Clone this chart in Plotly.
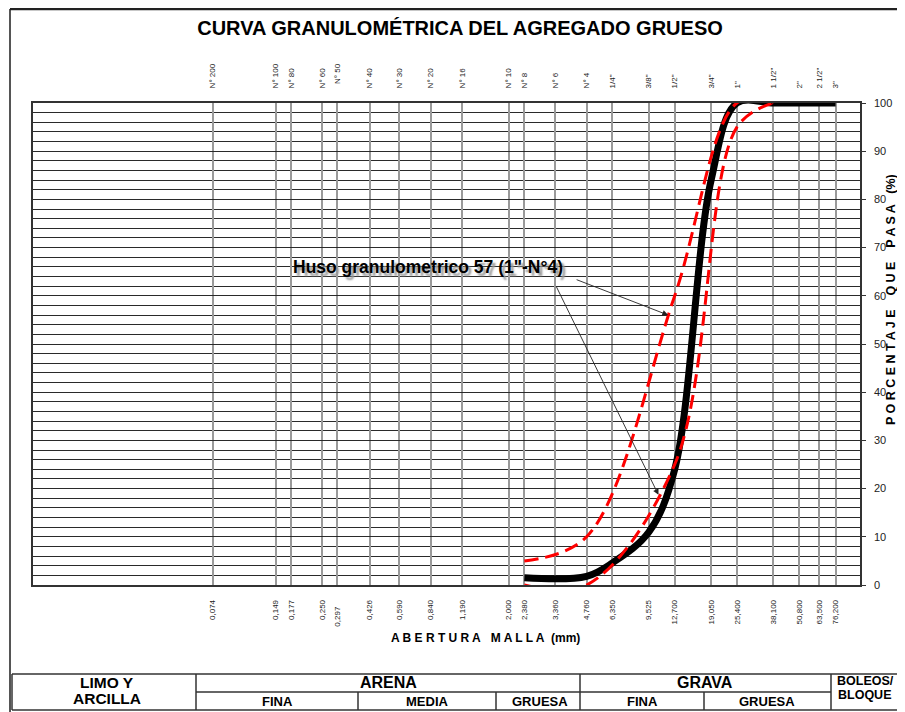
import numpy as np
import plotly.graph_objects as go

# ---------------- data ----------------
sieve_mm = [0.074, 0.149, 0.177, 0.250, 0.297, 0.426, 0.590, 0.840, 1.190, 2.000,
            2.380, 3.360, 4.760, 6.350, 9.525, 12.700, 19.050, 25.400, 38.100,
            50.800, 63.500, 76.200]
sieve_names = ["N° 200", "N° 100", "N° 80", "N° 60", "\u00a0\u00a0N° 50", "N° 40", "N° 30",
               "N° 20", "N° 16", "N° 10", "N° 8", "N° 6", "N° 4", "1/4\"", "3/8\"",
               "1/2\"", "3/4\"", "1\"", "1 1/2\"", "2\"", "2 1/2\"", "3\""]
sieve_labels = ["0,074", "0,149", "0,177", "0,250", "0,297\u00a0\u00a0\u00a0", "0,426", "0,590",
                "0,840", "1,190", "2,000", "2,380", "3,360", "4,760", "6,350", "9,525",
                "12,700", "19,050", "25,400", "38,100", "50,800", "63,500", "76,200"]

sample_mm = [2.38, 4.76, 6.35, 9.525, 12.7, 19.05, 25.4, 38.1, 50.8, 63.5, 76.2]
sample_pass = [1.5, 1.8, 4.6, 11.0, 24.0, 84.0, 100, 100, 100, 100, 100]

limit_mm = [2.38, 4.76, 12.7, 25.4, 38.1]
upper_pass = [5, 10, 60, 100, 100]
lower_pass = [0, 0, 25, 95, 100]

y_ticks = list(range(0, 101, 10))

arrow_tip_mm = [11.8, 10.6]
arrow_tip_pct = [56.0, 18.7]

# ---------------- geometry helpers (layout only) ----------------
OFF = 8                      # page body margin of the html page
L, R, T, B = 33, 860, 103, 585   # plot area in window pixels
W, H = 905, 712              # window size
FW, FH = W - OFF, H - OFF    # figure size


def px_x(px):
    return (px - L) / (R - L)


def px_y(py):
    return (B - py) / (B - T)


FONT = "Liberation Sans, Arial, sans-serif"

fig = go.Figure()

fig.add_trace(go.Scatter(
    x=sample_mm, y=sample_pass, mode="lines",
    line=dict(color="black", width=7, shape="spline", smoothing=1.0),
    hoverinfo="skip", showlegend=False))

fig.add_trace(go.Scatter(
    x=limit_mm, y=upper_pass, mode="lines",
    line=dict(color="#ff0000", width=3, dash="14px,7px", shape="spline", smoothing=1.0),
    hoverinfo="skip", showlegend=False))

fig.add_trace(go.Scatter(
    x=limit_mm, y=lower_pass, mode="lines",
    line=dict(color="#ff0000", width=3, dash="14px,7px", shape="spline", smoothing=1.0),
    hoverinfo="skip", showlegend=False))

# invisible trace to activate the top axis
fig.add_trace(go.Scatter(
    x=sample_mm, y=sample_pass, xaxis="x2", mode="lines",
    line=dict(color="rgba(0,0,0,0)", width=0),
    hoverinfo="skip", showlegend=False))

fig.update_layout(
    width=FW, height=FH,
    margin=dict(l=L - OFF, r=W - R, t=T - OFF, b=H - B, pad=0),
    paper_bgcolor="white", plot_bgcolor="white",
    font=dict(family=FONT, color="black"),
    showlegend=False,
    hovermode=False,
    title=dict(text="<b>CURVA GRANULOMÉTRICA DEL AGREGADO GRUESO</b>",
               x=(460 - OFF) / FW, xref="container", xanchor="center",
               y=1 - (28 - OFF) / FH, yref="container", yanchor="middle",
               font=dict(size=20, family=FONT, color="black")),
    xaxis=dict(
        type="log", range=[-2, 2],
        tickvals=sieve_mm, ticktext=sieve_labels, tickangle=-90,
        tickfont=dict(size=8, family=FONT, color="#222"),
        ticks="outside", ticklen=10, tickcolor="rgba(0,0,0,0)",
        showgrid=True, gridcolor="#9a9a9a", gridwidth=1.5,
        showline=True, linecolor="#333", linewidth=1.5, mirror=True,
        zeroline=False, fixedrange=True),
    xaxis2=dict(
        type="log", range=[-2, 2], overlaying="x", side="top", anchor="y",
        tickvals=sieve_mm, ticktext=sieve_names, tickangle=-90,
        tickfont=dict(size=8, family=FONT, color="#222"),
        ticks="outside", ticklen=12, tickcolor="rgba(0,0,0,0)",
        showgrid=False, showline=False, zeroline=False, fixedrange=True),
    yaxis=dict(
        range=[0, 100], side="right",
        tickvals=y_ticks, ticks="outside", ticklen=4, tickcolor="#333",
        ticklabelstandoff=6,
        tickfont=dict(size=11, family=FONT, color="#222"),
        showgrid=True, gridcolor="#2a2a2a", gridwidth=1.2,
        minor=dict(dtick=2, showgrid=True, gridcolor="#2a2a2a", gridwidth=1.2, ticks=""),
        showline=True, linecolor="#333", linewidth=1.5, mirror=True,
        zeroline=False, fixedrange=True),
)

shapes = []
line_c = "#333"
# page border
shapes.append(dict(type="line", xref="paper", yref="paper",
                   x0=px_x(10), x1=px_x(10), y0=px_y(9), y1=px_y(712),
                   line=dict(color="#555", width=2)))
shapes.append(dict(type="line", xref="paper", yref="paper",
                   x0=px_x(10), x1=px_x(905), y0=px_y(9), y1=px_y(9),
                   line=dict(color="#222", width=2.5)))
# table
for (x0, x1, y) in [(12, 905, 674), (196, 831, 692), (12, 905, 710)]:
    shapes.append(dict(type="line", xref="paper", yref="paper",
                       x0=px_x(x0), x1=px_x(x1), y0=px_y(y), y1=px_y(y),
                       line=dict(color=line_c, width=1.5)))
for (x, y0, y1) in [(12, 674, 710), (196, 674, 710), (580, 674, 710), (831, 674, 710),
                    (358, 692, 710), (496, 692, 710), (704, 692, 710)]:
    shapes.append(dict(type="line", xref="paper", yref="paper",
                       x0=px_x(x), x1=px_x(x), y0=px_y(y0), y1=px_y(y1),
                       line=dict(color=line_c, width=1.5)))
fig.update_layout(shapes=shapes)

ann = []


def txt(text, x, y, size, angle=0, bold=True):
    ann.append(dict(text=("<b>%s</b>" % text) if bold else text,
                    x=px_x(x), y=px_y(y), xref="paper", yref="paper",
                    xanchor="center", yanchor="middle", showarrow=False,
                    textangle=angle, font=dict(size=size, family=FONT, color="black")))


sp = "\u00a0"
txt((" ".join("ABERTURA")) + sp * 3 + (" ".join("MALLA")) + sp * 2 + "(mm)", 485, 638, 12)
txt((" ".join("PORCENTAJE")) + sp * 4 + (" ".join("QUE")) + sp * 4 + (" ".join("PASA")) + sp * 3 + "(%)",
    891, 300, 12.5, angle=-90)

txt("LIMO Y", 107, 682, 15.5)
txt("ARCILLA", 107, 698, 15.5)
txt("ARENA", 388, 682, 16)
txt("GRAVA", 705, 682, 16)
txt("FINA", 277, 701, 13)
txt("MEDIA", 427, 701, 13)
txt("GRUESA", 540, 701, 13)
txt("FINA", 642, 701, 13)
txt("GRUESA", 767, 701, 13)
txt("BOLEOS/", 865, 681, 12.5)
txt("BLOQUE", 864, 695, 12.5)

ann.append(dict(text="<b>Huso granulometrico 57 (1\"-N°4)</b>",
                x=px_x(428), y=px_y(267), xref="paper", yref="paper",
                xanchor="center", yanchor="middle", showarrow=False,
                font=dict(size=17.5, family=FONT, color="black",
                          shadow="3px 3px 2px #9a9a9a")))

for tip_x, tip_y, axp, ayp in zip(arrow_tip_mm, arrow_tip_pct, [-93, -103], [-36, -210]):
    ann.append(dict(text="", x=np.log10(tip_x), y=tip_y, xref="x", yref="y",
                    showarrow=True, ax=axp, ay=ayp, axref="pixel", ayref="pixel",
                    arrowhead=2, arrowsize=1.3, arrowwidth=0.9, arrowcolor="#222",
                    standoff=0))

fig.update_layout(annotations=ann)

fig.write_html("out.html")
